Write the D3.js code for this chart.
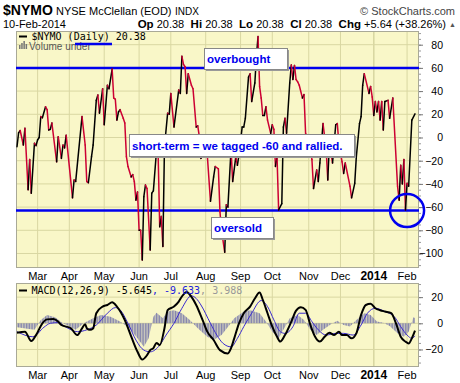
<!DOCTYPE html>
<html>
<head>
<meta charset="utf-8">
<script src="https://cdn.jsdelivr.net/npm/d3@7"></script>
<style>
body{margin:0;background:#fff}
svg{display:block}
text{font-family:"Liberation Sans",Arial,sans-serif;white-space:pre}
.mono{font-family:"DejaVu Sans Mono",monospace}
</style>
</head>
<body>
<svg id="chart" width="460" height="383"></svg>
<script>
// trading calendar Feb-11-2013 .. Feb-10-2014
const firstDay='2013-02-11', lastDay='2014-02-10'
const holidays=['2013-02-18','2013-03-29','2013-05-27','2013-07-04','2013-09-02','2013-11-28','2013-12-25','2014-01-01','2014-01-20']

// $NYMO daily, as turning points (session index, value)
const nymoSession=[0,1,2,4,5,7,8,9,11,12,13,14,15,16,18,19,20,21,22,25,26,28,29,30,31,35,36,37,41,43,44,45,47,48,50,51,52,54,55,57,58,60,61,62,63,64,65,67,68,69,70,72,73,74,75,76,77,78,79,80,81,82,84,85,86,88,89,90,91,92,93,95,96,97,99,102,103,104,105,106,107,108,110,111,113,114,115,116,117,120,122,124,125,127,128,129,131,132,133,135,136,138,139,140,142,143,144,146,147,148,150,151,152,153,154,155,156,157,158,160,161,162,163,164,165,167,168,169,170,172,173,174,175,176,177,178,180,181,182,184,186,187,189,190,191,193,195,196,197,199,201,202,203,205,206,207,210,211,213,214,216,217,218,219,222,223,224,225,226,227,228,229,230,231,232,234,235,237,240,241,242,243,244,245,246,247,249,251]
const nymoValue=[-8,4,6,-6.5,8,-45,-19,-48,-5,-7,-2,0,18,17,26.5,24,6.5,7,12.5,-21,0.7,-18,-6.5,-9,2,-52,-36.6,-38,18,-6.5,-38,-39,-16.5,-6.5,32,36.6,21,42,11,45,42,59,34,33,15,22,24,16.5,12.5,-16.5,-25,-34,-32,-38,-54,-47,-80,-80,-105.6,-51,-41,-44,-97,-48,-46,-11,-14,-77,-68,-94,-8,21,20,38,9,41,38,70,63,61,38,55,45,42,9,10,0.7,-18,-16,-15,-55,-34,-25,-27,-64,-80,-99,-58,-60,-10,-38,-16.5,-24,-15,9,9,16.5,52,55,31,47,70,87,44,34,19,19,26.5,15,3.6,11,7,-25,-17,-62.5,-57,9,16.5,3.6,47,62.5,50,62,50,48,45,34,37,3.6,-2,-19,-44,-28,-38,-22,12,-11,-36.6,-5,-22,11,12,-5,-21,-31,-22,-42,-52,-39.5,-16.5,12,18,45,55,38,44,35,19,31,22,31,15,31,6.5,31,32,16.5,34,-42,-54,-24,-40,-19,-62.5,-39.5,-42,15,20.38]
const overbought=60, oversold=-63

// MACD(12,26,9)
const macdSession=[0,5,9,12,16,19,23,26,28,34,38,41,43,44,46,48,50,54,57,60,63,68,72,76,79,82,84,86,88,90,93,95,99,102,104,107,109,113,117,120,124,128,133,135,137,140,143,147,150,153,155,158,161,164,166,169,173,176,179,182,185,188,191,194,197,200,203,205,208,211,214,217,220,223,226,229,232,236,239,242,245,247,249,251]
const macdValue=[-7.2,-6.4,-13.6,-9,0,3,3.3,1.2,-1.3,-3.8,-9,-3.8,-0.8,-3.8,-5,-4,7.7,12.8,14,16,12.8,2.5,-10,-21.8,-27.7,-24.4,-20.5,-19,-15,-16.7,-3.8,10,12.8,16.6,20.5,24,21.8,14,2.6,-6.4,-12.8,-20.5,-23,-19,-11.5,0,7.7,12.8,19,23.6,18,7.7,-2.6,-10.3,-14,-9,1.3,9.7,12.3,10.3,-1.3,-10.3,-14,-10.3,-7.2,-9,-6.4,-9,-9,-11.5,-7.7,6.4,14,14.9,11.5,10,9,7.7,0,-10.3,-14,-15.4,-11.5,-5.645]
const signalSession=[0,10,17,21,26,31,38,44,50,57,62,65,70,75,80,84,90,94,99,104,110,113,116,122,126,130,135,139,143,148,154,158,162,166,169,174,178,182,186,190,195,201,206,212,217,221,226,232,238,242,246,249,251]
const signalValue=[-6.4,-10.3,-3,0,0.5,-3,-6.4,-5,-1.3,7.7,12,10.3,0,-12.8,-20.5,-21.8,-16.7,-9,0,11.5,21,19,14,0,-9,-15.4,-18,-11.5,-2.6,7.7,17.4,12.8,2.6,-6.4,-7.7,-2.6,7.7,7.7,1.3,-5,-9,-7.7,-7.7,-9,-1.3,7.7,11.5,9,5,-2.6,-9,-11.5,-9.633]
const histSession=[0,11,15,19,24,29,33,37,42,48,53,59,65,71,76,80,83,86,88,92,95,99,104,109,114,120,124,129,134,137,143,147,153,157,161,165,168,172,177,181,185,189,193,198,202,206,210,214,219,223,227,231,235,240,244,247,250,251]
const histValue=[-3,-5,2.5,6.4,4.6,0,-2.5,-5,0,3.8,6.4,5,1.3,-3.8,-11.5,-18,-11.5,5,8,3.8,9,10,7.7,2.5,-3.8,-10.3,-12.8,-9,-1.3,3.8,9,10,7.7,1.3,-6.4,-11.5,-5,3.8,6.4,2.5,-5,-9,-5,-0.8,2,-1.3,-2.5,2.5,7.7,6.4,1.3,0.5,-2,-7.7,-10.3,-6.4,4.6,3.988]

const mainTicks=[80,60,40,20,0,-20,-40,-60,-80,-100]
const macdTicks=[20,0,-20]
const quote=[['Op','20.38'],['Hi','20.38'],['Lo','20.38'],['Cl','20.38'],['Chg','+5.64 (+38.26%)']]

const BLUE='#0000ee', RED='#cc0033', GRID='#d9d7a2', FILL='#f9f7c8', EDGE='#a9a997'
const svg=d3.select('#chart')

// sessions
const parse=d3.timeParse('%Y-%m-%d'), fmt=d3.timeFormat('%Y-%m-%d')
const sessions=d3.timeDay.range(parse(firstDay),d3.timeDay.offset(parse(lastDay),1))
  .filter(d=>d.getDay()>0&&d.getDay()<6&&!holidays.includes(fmt(d)))
const monthTicks=[]
sessions.forEach((d,i)=>{
  if(i>0&&d.getMonth()!==sessions[i-1].getMonth())
    monthTicks.push({i:i,label:d.getMonth()===0?String(d.getFullYear()):d3.timeFormat('%b')(d),year:d.getMonth()===0})
})

const P={l:16,r:419,t:31,b:268}, M={t:283,b:367}
const x=d3.scaleLinear().domain([0,sessions.length-1]).range([17,415])
const y=d3.scaleLinear().domain([-112.5,91.8]).range([P.b,P.t])
const ym=d3.scaleLinear().domain([-33.4,30.8]).range([M.b,M.t])

// header
const head=svg.append('g')
head.append('text').attr('x',3).attr('y',15).attr('font-size',14).attr('font-weight','bold').text('$NYMO')
head.append('text').attr('x',56).attr('y',15).attr('font-size',11).text('NYSE McClellan (EOD)')
head.append('text').attr('x',175).attr('y',15).attr('font-size',10).text('INDX')
head.append('text').attr('x',455).attr('y',15).attr('font-size',11).attr('fill','#444').attr('text-anchor','end').text('\u00a9 StockCharts.com')
head.append('text').attr('x',3).attr('y',27.5).attr('font-size',11).text('10-Feb-2014')
const q=head.append('text').attr('x',446).attr('y',27.5).attr('font-size',11).attr('text-anchor','end')
quote.forEach((d,k)=>{
  q.append('tspan').attr('font-weight','bold').attr('font-size',11.5).text((k?'  ':'')+d[0])
  q.append('tspan').text(' '+d[1])
})
head.append('text').attr('x',449).attr('y',27).attr('font-size',7).attr('fill','#555').text('\u25b2')

// panels
function panel(top,bottom,ticks,scale){
  const g=svg.append('g')
  g.append('rect').attr('x',P.l).attr('y',top).attr('width',P.r-P.l).attr('height',bottom-top).attr('fill',FILL)
  g.selectAll('line.hg').data(ticks).enter().append('line').attr('class','hg')
    .attr('x1',P.l).attr('x2',P.r).attr('y1',d=>scale(d)).attr('y2',d=>scale(d))
    .attr('stroke',GRID).attr('stroke-width',1)
  g.selectAll('line.vg').data(monthTicks).enter().append('line').attr('class','vg')
    .attr('x1',d=>x(d.i)).attr('x2',d=>x(d.i)).attr('y1',top).attr('y2',bottom)
    .attr('stroke',GRID).attr('stroke-width',d=>d.year?1.6:1)
  g.append('rect').attr('x',P.l+0.5).attr('y',top+0.5).attr('width',P.r-P.l-1).attr('height',bottom-top-1)
    .attr('fill','none').attr('stroke',EDGE)
  // right axis
  const minor=d3.range(Math.ceil(scale.domain()[0]/5)*5,scale.domain()[1],5)
  g.append('g').attr('transform',`translate(${P.r},0)`)
    .call(d3.axisRight(scale).tickValues(minor).tickSize(2).tickFormat(''))
    .call(a=>a.select('.domain').remove())
    .selectAll('line').attr('stroke','#999')
  const ax=g.append('g').attr('transform',`translate(${P.r},0)`)
    .call(d3.axisRight(scale).tickValues(ticks).tickSize(4))
  ax.select('.domain').remove()
  ax.selectAll('line').attr('stroke','#777')
  ax.selectAll('text').attr('x',24).attr('text-anchor','end')
    .attr('font-family','"Liberation Sans",Arial,sans-serif').attr('font-size',10.5).attr('fill','#000')
  return g
}
panel(P.t,P.b,mainTicks,y)
panel(M.t,M.b,macdTicks,ym)

// month labels
function months(base){
  svg.append('g').selectAll('text').data(monthTicks).enter().append('text')
    .attr('x',d=>x(d.i)).attr('y',base).attr('text-anchor','middle')
    .attr('font-size',d=>d.year?12:11).attr('font-weight',d=>d.year?'bold':'normal')
    .text(d=>d.label)
}
months(280)
months(378.5)

// overbought / oversold
svg.append('g').selectAll('line').data([overbought,oversold]).enter().append('line')
  .attr('x1',P.l).attr('x2',P.r).attr('y1',d=>y(d)).attr('y2',d=>y(d))
  .attr('stroke',BLUE).attr('stroke-width',2.5)

// NYMO line, black up / red down
const segs=d3.pairs(nymoSession.map((s,k)=>[s,nymoValue[k]]))
svg.append('g').selectAll('line').data(segs).enter().append('line')
  .attr('x1',d=>x(d[0][0])).attr('y1',d=>y(d[0][1]))
  .attr('x2',d=>x(d[1][0])).attr('y2',d=>y(d[1][1]))
  .attr('stroke',d=>d[1][1]>=d[0][1]?'#000':RED)
  .attr('stroke-width',1.5).attr('stroke-linecap','round')

// legends
const lg=svg.append('g')
lg.append('line').attr('x1',19).attr('x2',27).attr('y1',36.5).attr('y2',36.5).attr('stroke','#000').attr('stroke-width',2)
lg.append('text').attr('class','mono').attr('x',31.5).attr('y',40).attr('font-size',10).text('$NYMO (Daily) 20.38')
lg.selectAll('rect.vi').data([4,6,8,5]).enter().append('rect').attr('class','vi')
  .attr('x',(d,k)=>19+k*2.2).attr('y',d=>49-d).attr('width',1.5).attr('height',d=>d).attr('fill','#777')
lg.append('text').attr('x',29).attr('y',49.5).attr('font-size',10).attr('fill','#555').text('Volume under')
lg.append('line').attr('x1',75).attr('x2',112).attr('y1',44).attr('y2',44).attr('stroke',BLUE).attr('stroke-width',2.5)

// MACD panel
const defs=svg.append('defs')
const pat=defs.append('pattern').attr('id','hstripe').attr('patternUnits','userSpaceOnUse')
  .attr('x',x(0)-0.5).attr('width',x(1)-x(0)).attr('height',4)
pat.append('rect').attr('width',1.1).attr('height',4).attr('fill','#8282ac')
svg.append('path').datum(histSession.map((s,k)=>[s,histValue[k]]))
  .attr('fill','url(#hstripe)')
  .attr('d',d3.area().x(d=>x(d[0])).y0(ym(0)).y1(d=>ym(d[1])))
svg.append('path').datum(signalSession.map((s,k)=>[s,signalValue[k]]))
  .attr('fill','none').attr('stroke','#3a2ad0').attr('stroke-width',1)
  .attr('d',d3.line().x(d=>x(d[0])).y(d=>ym(d[1])).curve(d3.curveMonotoneX))
svg.append('path').datum(macdSession.map((s,k)=>[s,macdValue[k]]))
  .attr('fill','none').attr('stroke','#000').attr('stroke-width',2)
  .attr('d',d3.line().x(d=>x(d[0])).y(d=>ym(d[1])).curve(d3.curveMonotoneX))
const ml=svg.append('g')
ml.append('line').attr('x1',19).attr('x2',27).attr('y1',290.5).attr('y2',290.5).attr('stroke','#000').attr('stroke-width',2)
const mt=ml.append('text').attr('class','mono').attr('x',31.5).attr('y',294).attr('font-size',10)
mt.append('tspan').text('MACD(12,26,9) -5.645')
mt.append('tspan').attr('fill','#2222dd').text(', -9.633')
mt.append('tspan').attr('fill','#999').text(', 3.988')

// annotations
function note(bx,by,w,h,txt){
  const g=svg.append('g')
  g.append('rect').attr('x',bx+2).attr('y',by+2).attr('width',w).attr('height',h).attr('fill','#999')
  g.append('rect').attr('x',bx+0.5).attr('y',by+0.5).attr('width',w).attr('height',h).attr('fill','#fff').attr('stroke','#888')
  g.append('text').attr('x',bx+3).attr('y',by+h/2+4.5).attr('font-size',11.5).attr('font-weight','bold').attr('fill',BLUE).text(txt)
}
note(204,48,83,21,'overbought')
note(129,134,225,22,'short-term = we tagged -60 and rallied.')
note(211,217,62,21,'oversold')

svg.append('ellipse').attr('cx',x(246)).attr('cy',y(oversold)).attr('rx',17).attr('ry',16.5)
  .attr('fill','none').attr('stroke',BLUE).attr('stroke-width',2.5)
</script>
</body>
</html>
